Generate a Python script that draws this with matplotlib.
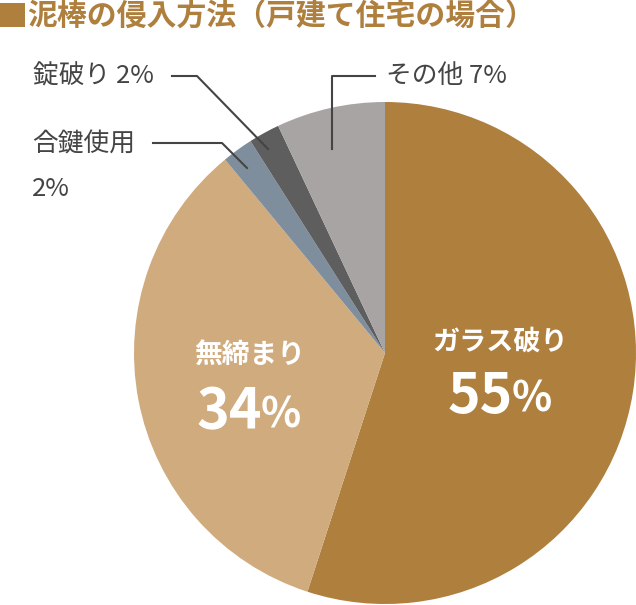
import matplotlib
matplotlib.use('Agg')
import matplotlib.pyplot as plt
from matplotlib.patches import Rectangle

plt.rcParams['font.family'] = ['Noto Sans CJK JP', 'DejaVu Sans']

# slice data, clockwise from the top
labels = ['ガラス破り', '無締まり', '合鍵使用', '錠破り', 'その他']
shares = [55, 34, 2, 2, 7]
colors = ['#AF7F3E', '#CFAB7D', '#7F8E9D', '#5E5E5E', '#A8A4A3']
title = '泥棒の侵入方法（戸建て住宅の場合）'

fig = plt.figure(figsize=(6.36, 6.05), dpi=100)
ax = fig.add_axes([0, 0, 1, 1])

# pixel-like coordinates, y axis pointing down
ax.pie(shares, colors=colors, startangle=-90, counterclock=True,
       center=(385, 353), radius=251, frame=True,
       wedgeprops=dict(linewidth=0))
ax.set_xlim(0, 636)
ax.set_ylim(605, 0)
ax.set_aspect('equal')
ax.axis('off')

# title with square marker
ax.add_patch(Rectangle((0, 3), 25, 24, color='#AF7F3E', lw=0))
ax.text(27, 16, title, color='#AF7F3E', fontsize=21.5, fontweight='bold',
        va='center', ha='left')

# labels inside big slices
white = dict(color='white', fontweight='bold', va='center')
ax.text(500, 342, labels[0], fontsize=19.5, ha='center', **white)
ax.text(513, 397, str(shares[0]), fontsize=40, ha='right', **white)
ax.text(512, 400, '%', fontsize=30, ha='left', **white)
ax.text(250, 356, labels[1], fontsize=20, ha='center', **white)
ax.text(262, 412, str(shares[1]), fontsize=40, ha='right', **white)
ax.text(261, 415, '%', fontsize=30, ha='left', **white)

# outside labels with leader lines
lc = '#444444'
lw = 1.5
ax.text(33, 76, f'{labels[3]} {shares[3]}%', fontsize=18.5, color=lc,
        va='center', ha='left')
ax.plot([172, 197, 268], [76, 76, 149], color=lc, lw=lw)

ax.text(32, 145, labels[2], fontsize=18.5, color=lc, va='center', ha='left')
ax.text(32, 189, f'{shares[2]}%', fontsize=18.5, color=lc, va='center', ha='left')
ax.plot([153, 222, 247], [143, 143, 168], color=lc, lw=lw)

ax.text(386, 76, f'{labels[4]} {shares[4]}%', fontsize=18.5, color=lc,
        va='center', ha='left')
ax.plot([375, 332, 332], [76, 76, 149], color=lc, lw=lw)

fig.savefig('out.png', dpi=100)
